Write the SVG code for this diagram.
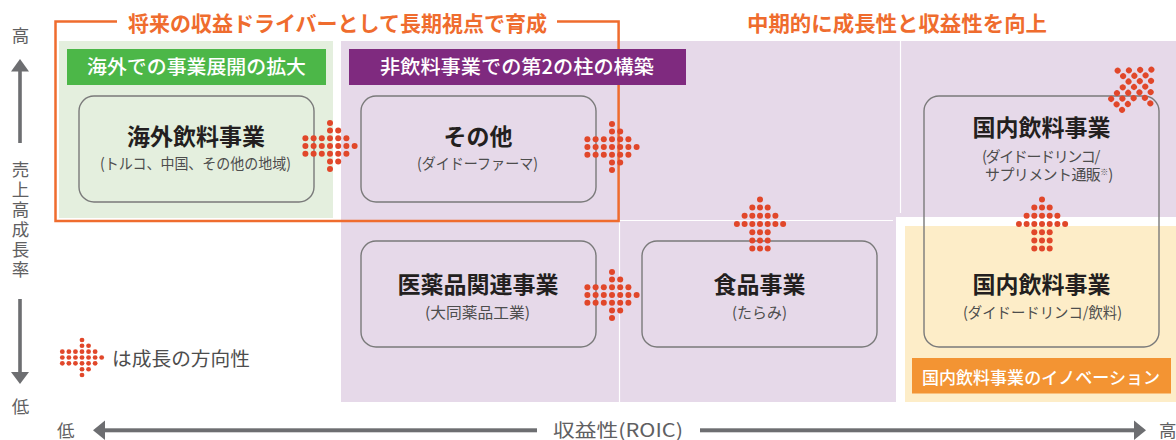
<svg xmlns="http://www.w3.org/2000/svg" xmlns:xlink="http://www.w3.org/1999/xlink" width="1176" height="440" viewBox="0 0 1176 440">
  <defs>
    <style>
      text { font-family: "Noto Sans CJK JP", "Noto Sans", sans-serif; }
      .ttl { font-size: 21px; font-weight: 700; fill: #EF6C2E; }
      .hdr { font-size: 19.5px; font-weight: 500; fill: #FFFFFF; text-anchor: middle; }
      .name { font-size: 23px; font-weight: 700; fill: #231F20; text-anchor: middle; }
      .sub { font-size: 15px; fill: #4D4D4D; text-anchor: middle; }
      .axis { font-size: 17.5px; fill: #5F6062; }
      .box { fill: none; stroke: #7A7A7A; stroke-width: 1.4; }
      .dot { fill: #E1472A; }
      .axl { fill: #6D6E71; }
    </style>
    <g id="arrowR" class="dot">
      <circle cx="0" cy="-23.1" r="3"/>
      <circle cx="0" cy="-15.4" r="3"/><circle cx="8.2" cy="-15.4" r="3"/>
      <circle cx="-24.6" cy="-7.7" r="3"/><circle cx="-16.4" cy="-7.7" r="3"/><circle cx="-8.2" cy="-7.7" r="3"/><circle cx="0" cy="-7.7" r="3"/><circle cx="8.2" cy="-7.7" r="3"/><circle cx="16.4" cy="-7.7" r="3"/>
      <circle cx="-24.6" cy="0" r="3"/><circle cx="-16.4" cy="0" r="3"/><circle cx="-8.2" cy="0" r="3"/><circle cx="0" cy="0" r="3"/><circle cx="8.2" cy="0" r="3"/><circle cx="16.4" cy="0" r="3"/><circle cx="24.6" cy="0" r="3"/>
      <circle cx="-24.6" cy="7.7" r="3"/><circle cx="-16.4" cy="7.7" r="3"/><circle cx="-8.2" cy="7.7" r="3"/><circle cx="0" cy="7.7" r="3"/><circle cx="8.2" cy="7.7" r="3"/><circle cx="16.4" cy="7.7" r="3"/>
      <circle cx="0" cy="15.4" r="3"/><circle cx="8.2" cy="15.4" r="3"/>
      <circle cx="0" cy="23.1" r="3"/>
    </g>
  </defs>

  <rect width="1176" height="440" fill="#FFFFFF"/>

  <!-- background regions -->
  <g id="regions">
    <rect x="59" y="41" width="274" height="177" fill="#E4EFDE"/>
    <rect x="341" y="41" width="835" height="361" fill="#E6D9E9"/>
    <rect x="896" y="217" width="280" height="185" fill="#FFFFFF"/>
    <rect x="905" y="226" width="271" height="176" fill="#FDEDC8"/>
    <line x1="900.5" y1="41" x2="900.5" y2="213" stroke="#FFFFFF" stroke-width="1.2"/>
    <line x1="620" y1="220.5" x2="893" y2="220.5" stroke="#FFFFFF" stroke-width="1.2"/>
    <line x1="619.5" y1="221" x2="619.5" y2="402" stroke="#FFFFFF" stroke-width="1.2"/>
  </g>

  <!-- section titles -->
  <g id="section-long-term">
    <path d="M117,21.6 H55.5 V221 H618.6 V21.6 H557" fill="none" stroke="#EF6C2E" stroke-width="2.5"/>
    <text class="ttl" x="128" y="30.5" textLength="419" lengthAdjust="spacingAndGlyphs">将来の収益ドライバーとして長期視点で育成</text>
  </g>
  <g id="section-mid-term">
    <text class="ttl" x="747" y="30.5" textLength="300" lengthAdjust="spacingAndGlyphs">中期的に成長性と収益性を向上</text>
  </g>

  <g id="header-overseas">
    <rect x="67" y="49" width="259" height="36" fill="#4CB748"/>
    <text class="hdr" x="196.5" y="73.5" textLength="219" lengthAdjust="spacingAndGlyphs">海外での事業展開の拡大</text>
  </g>
  <g id="header-non-beverage">
    <rect x="349" y="49" width="337" height="36" fill="#7F2A7F"/>
    <text class="hdr" x="517" y="73.5" textLength="274" lengthAdjust="spacingAndGlyphs">非飲料事業での第2の柱の構築</text>
  </g>
  <g id="header-innovation">
    <rect x="912" y="358" width="259" height="35.5" fill="#F39433"/>
    <text class="hdr" x="1041" y="383.8" style="font-size:17px" textLength="238" lengthAdjust="spacingAndGlyphs">国内飲料事業のイノベーション</text>
  </g>

  <!-- nodes -->
  <g id="node-overseas-beverage">
    <rect class="box" x="79" y="96" width="235" height="106" rx="15"/>
    <text class="name" x="196" y="145.4">海外飲料事業</text>
    <text class="sub" x="195.5" y="169" textLength="191" lengthAdjust="spacingAndGlyphs">(トルコ、中国、その他の地域)</text>
  </g>
  <g id="node-other">
    <rect class="box" x="361" y="96" width="235" height="106" rx="15"/>
    <text class="name" x="478" y="145.4">その他</text>
    <text class="sub" x="477.5" y="169" textLength="121" lengthAdjust="spacingAndGlyphs">(ダイドーファーマ)</text>
  </g>
  <g id="node-pharma">
    <rect class="box" x="361" y="241" width="235" height="106" rx="15"/>
    <text class="name" x="478" y="293.4">医薬品関連事業</text>
    <text class="sub" x="477.5" y="317.5" textLength="105" lengthAdjust="spacingAndGlyphs">(大同薬品工業)</text>
  </g>
  <g id="node-food">
    <rect class="box" x="642" y="241" width="235" height="106" rx="15"/>
    <text class="name" x="759.5" y="293.4">食品事業</text>
    <text class="sub" x="759.5" y="317.5" textLength="55" lengthAdjust="spacingAndGlyphs">(たらみ)</text>
  </g>
  <g id="node-domestic-beverage">
    <rect class="box" x="924" y="96" width="235" height="251" rx="15"/>
    <text class="name" x="1041.5" y="136.4">国内飲料事業</text>
    <text class="sub" style="text-anchor:start"><tspan x="982" y="162" style="letter-spacing:-1.4px">(ダイドードリンコ/</tspan><tspan x="985" y="180" style="letter-spacing:-0.6px">サプリメント通販</tspan><tspan style="font-size:8px" dy="-5">※</tspan><tspan dy="5">)</tspan></text>
    <text class="name" x="1041.5" y="293.4">国内飲料事業</text>
    <text class="sub" x="1042.5" y="317.5" textLength="159" lengthAdjust="spacingAndGlyphs">(ダイドードリンコ/飲料)</text>
  </g>

  <!-- connectors: dotted growth arrows -->
  <g id="connectors">
    <use xlink:href="#arrowR" href="#arrowR" transform="translate(330,146)"/>
    <use xlink:href="#arrowR" href="#arrowR" transform="translate(612,147)"/>
    <use xlink:href="#arrowR" href="#arrowR" transform="translate(612,295)"/>
    <use xlink:href="#arrowR" href="#arrowR" transform="translate(760,224) rotate(-90)"/>
    <use xlink:href="#arrowR" href="#arrowR" transform="translate(1042,224) rotate(-90)"/>
    <use xlink:href="#arrowR" href="#arrowR" transform="translate(1134,87) rotate(-45)"/>
  </g>

  <!-- legend -->
  <g id="legend">
    <use xlink:href="#arrowR" href="#arrowR" transform="translate(82,357.5) scale(0.8,0.76)"/>
    <text x="112" y="366" style="font-size:19px;fill:#4D4D4D" textLength="138" lengthAdjust="spacingAndGlyphs">は成長の方向性</text>
  </g>

  <!-- axes -->
  <g id="axis-vertical">
    <text class="axis" x="20.5" y="42" text-anchor="middle">高</text>
    <polygon class="axl" points="20,59 11,71.5 29,71.5"/>
    <rect class="axl" x="18.2" y="71" width="3.6" height="72"/>
    <text class="axis" x="20.5" y="161" style="writing-mode:vertical-rl;letter-spacing:2.5px">売上高成長率</text>
    <rect class="axl" x="18.2" y="299" width="3.6" height="74"/>
    <polygon class="axl" points="11,372 29,372 20,384"/>
    <text class="axis" x="20.5" y="413" text-anchor="middle">低</text>
  </g>
  <g id="axis-horizontal">
    <text class="axis" x="57" y="436.5">低</text>
    <polygon class="axl" points="93,430.3 105,420.5 105,440"/>
    <rect class="axl" x="104" y="428.3" width="433" height="4"/>
    <text class="axis" x="553" y="437" style="font-size:18.5px" textLength="130" lengthAdjust="spacingAndGlyphs">収益性(ROIC)</text>
    <rect class="axl" x="700" y="428.3" width="435" height="4"/>
    <polygon class="axl" points="1134,420.5 1134,440 1146,430.3"/>
    <text class="axis" x="1159" y="436.5">高</text>
  </g>
</svg>
